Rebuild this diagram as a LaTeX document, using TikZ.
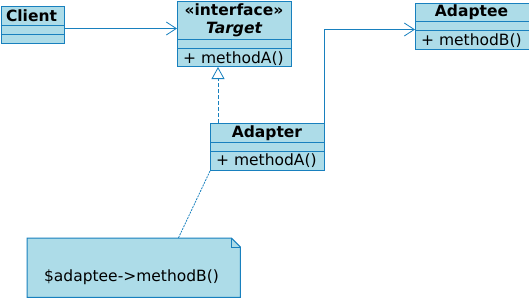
\documentclass[tikz,border=0pt]{standalone}
\usepackage{fontspec}
\setmainfont{DejaVu Sans}
\usetikzlibrary{arrows.meta}
\definecolor{umlline}{RGB}{24,128,190}
\definecolor{umlfill}{RGB}{173,220,232}

\begin{document}
\begin{tikzpicture}[x=1pt,y=-1pt,
  classbox/.style={draw=umlline,fill=umlfill,line width=1pt,rectangle,
    inner sep=0pt,anchor=north west},
  compartment/.style={draw=umlline,line width=1pt},
  txt/.style={font=\fontsize{15.5}{18}\selectfont,inner sep=0pt,anchor=base,text=black},
  boldtxt/.style={txt,font=\fontsize{15.5}{18}\selectfont\bfseries},
  member/.style={txt,anchor=base west},
  assoc/.style={draw=umlline,line width=0.8pt,-{Straight Barb[length=10pt,width=13pt]}},
  realize/.style={draw=umlline,line width=0.8pt,dash pattern=on 4pt off 2pt,
    -{Triangle[open,length=12pt,width=13pt,fill=white]}},
  noteline/.style={draw=umlline,line width=0.8pt,dash pattern=on 2pt off 1pt},
  notebox/.style={inner sep=0pt,minimum width=213pt,minimum height=59pt,anchor=north west}
]
\useasboundingbox (0,0) rectangle (529,298);

% Client
\node[classbox,minimum width=63pt,minimum height=37pt] (client) at (0.5,6) {};
\draw[compartment] ([yshift=-19pt]client.north west) -- ([yshift=-19pt]client.north east);
\draw[compartment] ([yshift=-28pt]client.north west) -- ([yshift=-28pt]client.north east);
\node[boldtxt] (clientname) at (31.5,21) {Client};

% Target interface
\node[classbox,minimum width=114pt,minimum height=65.5pt] (target) at (177,0.5) {};
\draw[compartment] ([yshift=-38.5pt]target.north west) -- ([yshift=-38.5pt]target.north east);
\draw[compartment] ([yshift=-47.5pt]target.north west) -- ([yshift=-47.5pt]target.north east);
\node[boldtxt] (stereo) at (234,15) {«interface»};
\node[boldtxt,font=\fontsize{15.5}{18}\selectfont\bfseries\itshape] (targetname) at (234,33) {Target};
\node[member] (targetop) at (183,63) {+ methodA()};

% Adaptee
\node[classbox,minimum width=113.5pt,minimum height=46pt] (adaptee) at (415,3) {};
\draw[compartment] ([yshift=-18pt]adaptee.north west) -- ([yshift=-18pt]adaptee.north east);
\draw[compartment] ([yshift=-27pt]adaptee.north west) -- ([yshift=-27pt]adaptee.north east);
\node[boldtxt] (adapteename) at (471.5,16) {Adaptee};
\node[member] (adapteeop) at (421,45) {+ methodB()};

% Adapter
\node[classbox,minimum width=114pt,minimum height=47pt] (adapter) at (210,123) {};
\draw[compartment] ([yshift=-19pt]adapter.north west) -- ([yshift=-19pt]adapter.north east);
\draw[compartment] ([yshift=-28pt]adapter.north west) -- ([yshift=-28pt]adapter.north east);
\node[boldtxt] (adaptername) at (267,137) {Adapter};
\node[member] (adapterop) at (216,165) {+ methodA()};

% Note with folded corner
\node[notebox] (note) at (27,238) {};
\fill[umlfill] (note.north west) -- ([xshift=-9pt]note.north east)
  -- ([yshift=-9pt]note.north east) -- (note.south east) -- (note.south west) -- cycle;
\draw[umlline,line width=1pt,line join=miter]
  (note.north west) -- ([xshift=-9pt]note.north east)
  -- ([yshift=-9pt]note.north east) -- (note.south east) -- (note.south west) -- cycle;
\draw[umlline,line width=1pt]
  ([xshift=-9pt]note.north east) -- ([xshift=-9pt,yshift=-9pt]note.north east)
  -- ([yshift=-9pt]note.north east);
\node[txt] (notetext) at (131.5,281) {\$adaptee->methodB()};

% Connectors
\draw[assoc] ([yshift=-3.5pt]client.east) -- ([yshift=-3.5pt]client.east -| target.west);
\draw[realize] ([xshift=8pt]adapter.north west) -- ([xshift=8pt]adapter.north west |- target.south);
\draw[assoc] ([xshift=-1pt]adapter.north east) |- ([yshift=-3pt]adaptee.west);
\draw[noteline] (adapter.south west) -- ([xshift=-62pt]note.north east);
\end{tikzpicture}
\end{document}
